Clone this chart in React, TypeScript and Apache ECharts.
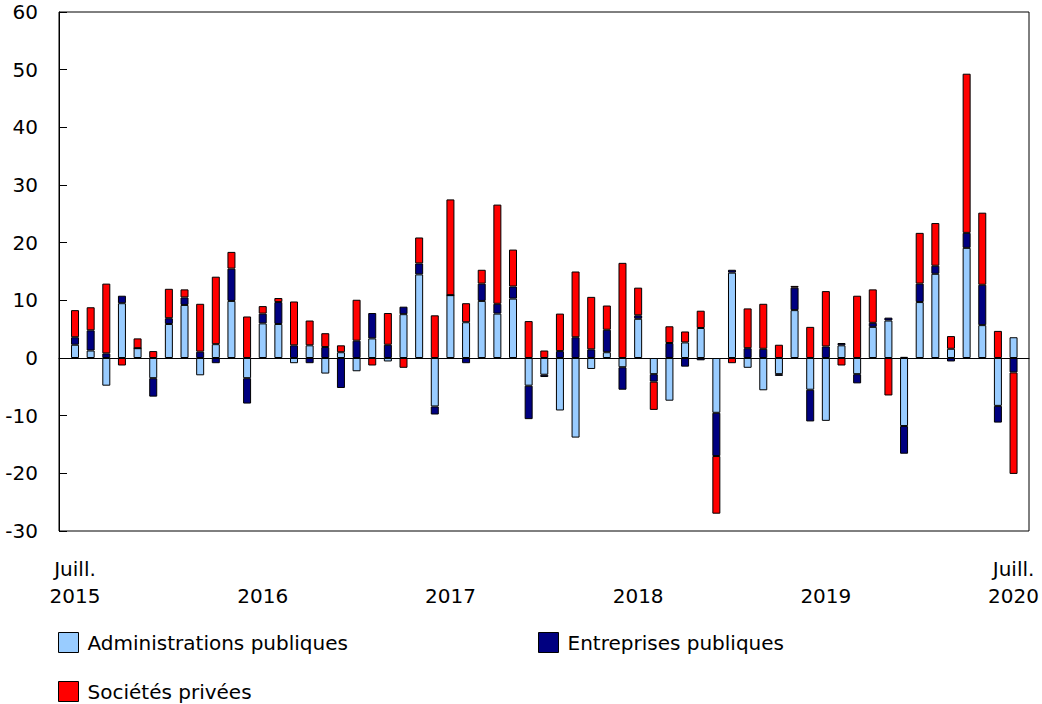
import React, { useEffect, useRef } from "react";
import * as echarts from "echarts";

// Monthly categories, July 2015 to July 2020
const months: string[] = [];
for (let y = 2015, m = 7; y < 2020 || (y === 2020 && m <= 7); ) {
  months.push(`${y}-${String(m).padStart(2, "0")}`);
  m++;
  if (m > 12) { m = 1; y++; }
}

const xTickLabels: Record<number, string> = {
  0: "Juill.\n2015",
  12: "\n2016",
  24: "\n2017",
  36: "\n2018",
  48: "\n2019",
  60: "Juill.\n2020",
};

const adminPub = [
  2.3, 1.3, -4.8, 9.5, 1.7, -3.5, 5.9, 9.2, -3.0, 2.4, 9.9, -3.5,
  6.0, 5.9, -0.9, 2.2, -2.7, 1.0, -2.3, 3.4, -0.6, 7.6, 14.5, -8.4,
  10.9, 6.2, 9.9, 7.7, 10.3, -4.8, -2.9, -9.1, -13.8, -1.9, 1.0, -1.6,
  6.8, -2.8, -7.4, 2.7, 5.2, -9.5, 14.8, -1.7, -5.6, -2.8, 8.3, -5.5,
  -10.9, 2.2, -2.8, 5.4, 6.5, -11.8, 9.7, 14.6, 1.6, 19.1, 5.7, -8.3,
  3.6,
];
const entPub = [
  1.3, 3.5, 0.8, 1.3, 0.0, -3.2, 1.0, 1.3, 1.1, -0.9, 5.6, -4.4,
  1.7, 3.8, 2.2, -0.9, 1.9, -5.2, 3.0, 4.4, 2.3, 1.3, 1.9, -1.4,
  0.0, -0.9, 3.0, 1.7, 2.1, -5.8, -0.4, 1.2, 3.6, 1.5, 3.9, -3.9,
  0.6, -1.3, 2.6, -1.5, -0.4, -7.5, 0.5, 1.7, 1.6, -0.3, 3.9, -5.5,
  2.0, 0.4, -1.6, 0.7, 0.5, -4.8, 3.2, 1.4, -0.6, 2.6, 7.0, -2.9,
  -2.5,
];
const socPriv = [
  4.7, 4.0, 12.1, -1.3, 1.7, 1.2, 5.1, 1.4, 8.3, 11.7, 2.9, 7.2,
  1.3, 0.7, 7.6, 4.3, 2.4, 1.2, 7.1, -1.3, 5.5, -1.7, 4.5, 7.4,
  16.6, 3.3, 2.4, 17.2, 6.4, 6.4, 1.3, 6.5, 11.4, 9.1, 4.2, 16.5,
  4.8, -4.9, 2.9, 1.9, 3.0, -10.0, -0.9, 6.9, 7.8, 2.3, 0.3, 5.4,
  9.6, -1.3, 10.8, 5.8, -6.5, 0.2, 8.8, 7.4, 2.2, 27.6, 12.5, 4.7,
  -17.6,
];

const seriesNames = ["Administrations publiques", "Entreprises publiques", "Sociétés privées"];
const seriesColors = ["#99ccff", "#000080", "#ff0000"];

const FONT = "'DejaVu Sans', Verdana, sans-serif";

export default function App() {
  const ref = useRef<HTMLDivElement>(null);
  useEffect(() => {
    if (!ref.current) return;
    const chart = echarts.init(ref.current, undefined, { renderer: "svg" });
    const dataSets = [adminPub, entPub, socPriv];
    const legendBase = {
      icon: "rect",
      padding: 0,
      itemWidth: 20,
      itemHeight: 20,
      itemStyle: { borderColor: "#000", borderWidth: 1 },
      textStyle: { fontFamily: FONT, fontSize: 20, color: "#000", padding: [0, 0, 0, 4] },
      selectedMode: false,
    };
    chart.setOption({
      animation: false,
      backgroundColor: "#fff",
      textStyle: { fontFamily: FONT },
      grid: [
        { left: 59, top: 12, width: 970, height: 519, show: true, borderColor: "#000", borderWidth: 1, backgroundColor: "transparent" },
        { left: 67.2, top: 12, width: 954.7, height: 519 },
      ],
      xAxis: [
        {
          gridIndex: 0, type: "value", min: 0, max: 1,
          axisLine: { show: true, onZero: true, lineStyle: { color: "#000", width: 1 } },
          axisTick: { show: false }, axisLabel: { show: false }, splitLine: { show: false },
        },
        {
          gridIndex: 1, type: "category", data: months,
          axisLine: { show: false }, axisTick: { show: false }, splitLine: { show: false },
          axisLabel: {
            interval: 11,
            margin: 24,
            fontFamily: FONT, fontSize: 20, color: "#000", lineHeight: 27,
            formatter: (_v: string, i: number) => xTickLabels[i] ?? "",
          },
        },
      ],
      yAxis: [
        {
          gridIndex: 0, type: "value", min: -30, max: 60, interval: 10,
          axisLine: { show: true, lineStyle: { color: "#000", width: 1 } },
          axisTick: { show: true, inside: true, length: 8, lineStyle: { color: "#000" } },
          axisLabel: { margin: 21, fontFamily: FONT, fontSize: 20, color: "#000" },
          splitLine: { show: false },
        },
        {
          gridIndex: 1, type: "value", min: -30, max: 60, interval: 10,
          axisLine: { show: false }, axisTick: { show: false }, axisLabel: { show: false }, splitLine: { show: false },
        },
      ],
      legend: [
        { ...legendBase, data: [seriesNames[0]], left: 58, top: 632 },
        { ...legendBase, data: [seriesNames[1]], left: 538, top: 632 },
        { ...legendBase, data: [seriesNames[2]], left: 58, top: 681 },
      ],
      series: dataSets.map((d, k) => ({
        name: seriesNames[k],
        type: "bar",
        xAxisIndex: 1,
        yAxisIndex: 1,
        stack: "total",
        barWidth: 8,
        data: d,
        itemStyle: { color: seriesColors[k], borderColor: "#000", borderWidth: 1 },
      })),
    });
    return () => chart.dispose();
  }, []);
  return <div ref={ref} style={{ position: "fixed", left: 0, top: 0, width: 1042, height: 704 }} />;
}
